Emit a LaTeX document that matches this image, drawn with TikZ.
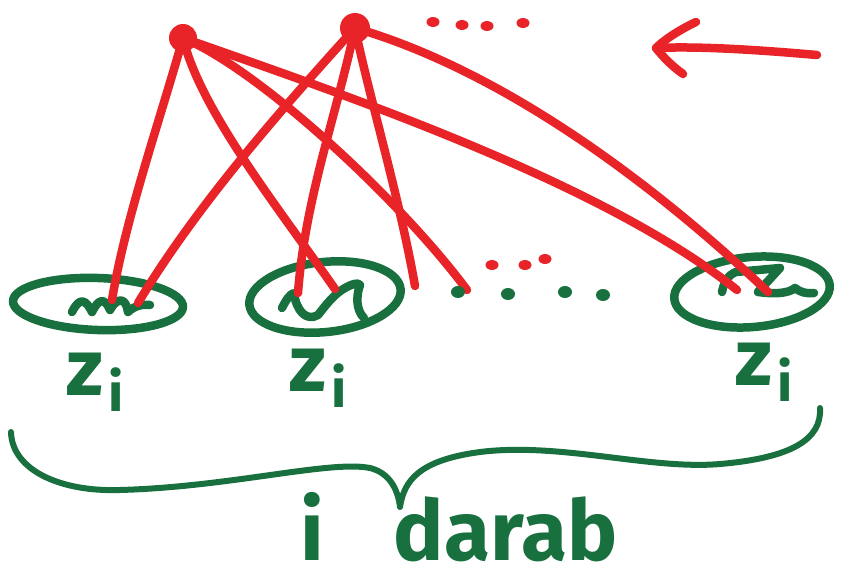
\documentclass[tikz,border=0pt]{standalone}
\usepackage{fontspec}
\setmainfont{Fira Sans}
\usetikzlibrary{shapes.geometric,arrows.meta}
\definecolor{pen red}{RGB}{232,36,40}
\definecolor{pen green}{RGB}{24,112,62}
\tikzset{
  redline/.style={draw=pen red,line width=8.5pt,line cap=round,line join=round},
  greenline/.style={draw=pen green,line width=8.5pt,line cap=round,line join=round},
  reddot/.style={circle,fill=pen red,minimum size=30pt,inner sep=0pt},
  rdot/.style={ellipse,fill=pen red,minimum width=13pt,minimum height=10pt,inner sep=0pt},
  gdot/.style={ellipse,fill=pen green,minimum width=14pt,minimum height=12pt,inner sep=0pt},
  ring/.style={ellipse,draw=pen green,line width=8.5pt,inner sep=0pt},
  lbl/.style={text=pen green,font=\fontsize{80}{80}\selectfont\bfseries,inner sep=0pt},
}
\newcommand{\zsub}{z\hspace{6pt}\raisebox{-0.2em}{\fontsize{54}{54}\selectfont i}}
\begin{document}
\begin{tikzpicture}[x=1pt,y=-1pt]
\useasboundingbox (0,0) rectangle (843,581);
% ellipses
\node[ring,minimum width=170pt,minimum height=52pt,rotate=-2] (e1) at (98,304) {};
\node[ring,minimum width=152pt,minimum height=70pt,rotate=6] (e2) at (325,297) {};
\node[ring,minimum width=156pt,minimum height=70pt,rotate=5] (e3) at (752,292) {};
% scribbles
\draw[greenline] (72,312) .. controls (80,296) and (86,300) .. (92,312) .. controls (98,300) and (104,296) .. (110,310) .. controls (118,296) and (126,298) .. (128,312) .. controls (134,306) and (142,304) .. (150,305);
\draw[greenline] (282,308) .. controls (286,300) and (290,294) .. (294,293) .. controls (296,310) and (306,322) .. (318,315) .. controls (326,305) and (334,294) .. (345,288) .. controls (352,284) and (358,282) .. (360,285) .. controls (356,296) and (356,310) .. (364,318);
\draw[greenline] (722,292) .. controls (724,282) and (728,275) .. (736,272) -- (780,268) -- (758,292) .. controls (772,294) and (788,294) .. (795,288) .. controls (800,292) and (806,294) .. (814,293);
% top dots
\node[reddot,minimum size=28pt] (d1) at (183,38) {};
\node[reddot] (d2) at (355,28) {};
% end points of the lines
\coordinate (a1) at (112,300);
\coordinate (a2) at (335,289);
\coordinate (a3) at (467,290);
\coordinate (a4) at (737,290);
\coordinate (b1) at (138,303);
\coordinate (b2) at (298,293);
\coordinate (b3) at (415,286);
\coordinate (b4) at (768,292);
% connectors
\draw[redline] (d1.center) .. controls (160,120) and (125,220) .. (a1);
\draw[redline] (d1.center) .. controls (200,110) and (280,210) .. (a2);
\draw[redline] (d1.center) .. controls (260,70) and (400,200) .. (a3);
\draw[redline] (d1.center) .. controls (330,90) and (600,180) .. (a4);
\draw[redline] (d2.center) .. controls (290,100) and (200,200) .. (b1);
\draw[redline] (d2.center) .. controls (335,120) and (305,200) .. (b2);
\draw[redline] (d2.center) .. controls (370,100) and (400,200) .. (b3);
\draw[redline] (d2.center) .. controls (500,70) and (650,180) .. (b4);
% ellipsis dots
\node[rdot] (t1) at (433,22) {};
\node[rdot] (t2) at (462,25) {};
\node[rdot] (t3) at (487,26) {};
\node[rdot] (t4) at (523,23) {};
\node[rdot] (m1) at (492,265) {};
\node[rdot] (m2) at (525,265) {};
\node[rdot] (m3) at (545,259) {};
\node[gdot] (g1) at (458,292) {};
\node[gdot] (g2) at (508,294) {};
\node[gdot] (g3) at (565,292) {};
\node[gdot] (g4) at (603,295) {};
% arrow
\coordinate (arS) at (817,55);
\coordinate (arT) at (656,48);
\draw[redline] (arS) .. controls (760,50) and (700,46) .. (arT);
\draw[redline] (696,22) .. controls (675,32) and (662,42) .. (arT) .. controls (664,58) and (672,66) .. (683,74);
% labels
\node[lbl] (z1) at (95,382) {\zsub};
\node[lbl] (z2) at (318,378) {\zsub};
\node[lbl] (z3) at (764,372) {\zsub};
% brace
\draw[greenline,line width=6pt] (11,432) .. controls (12,470) and (60,492) .. (120,490)
  .. controls (230,487) and (330,460) .. (370,468) .. controls (390,473) and (398,490) .. (400,507)
  .. controls (404,480) and (420,460) .. (480,452) .. controls (560,442) and (650,470) .. (720,464)
  .. controls (790,458) and (822,440) .. (820,408);
\node[text=pen green,font=\fontsize{84}{84}\selectfont\bfseries,anchor=base west,inner sep=0pt] (lab) at (300,560) {i\hspace{70pt}darab};
\end{tikzpicture}
\end{document}
